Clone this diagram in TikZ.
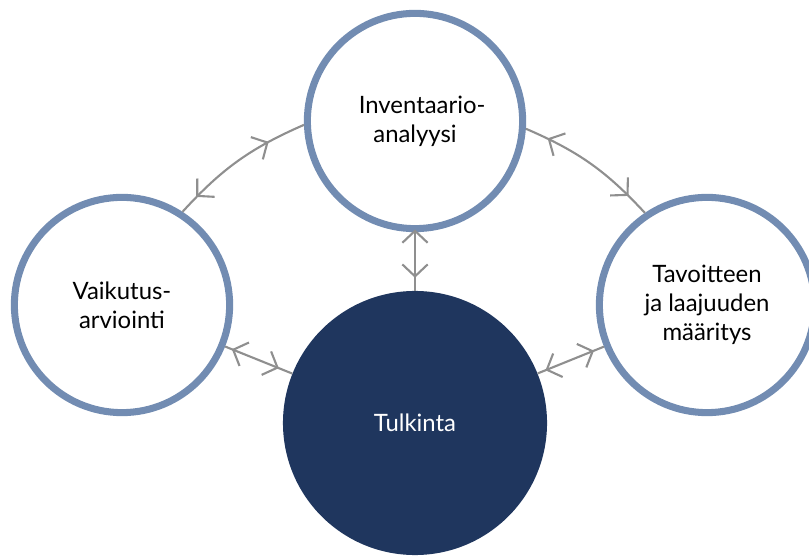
\documentclass[tikz,border=0pt]{standalone}
\usepackage{fontspec}
\setmainfont{Lato}
\usetikzlibrary{arrows.meta,decorations.markings}
\definecolor{ringblue}{HTML}{728CB2}
\definecolor{navy}{HTML}{1F365E}
\definecolor{linkgray}{HTML}{8F8F8F}

\begin{document}
\begin{tikzpicture}[x=0.025cm, y=-0.025cm,
  every node/.style={font=\fontsize{17}{20.5}\selectfont, align=center},
  ring/.style={draw=ringblue, circle, line width=5pt, fill=white, minimum size=5.38cm, inner sep=0pt},
  core/.style={circle, fill=navy, text=white, minimum size=6.6cm, inner sep=0pt},
  link/.style 2 args={draw=linkgray, line width=1.5pt, postaction={decorate, decoration={markings,
      mark=at position #1 with {\arrow{Straight Barb[length=8.5pt, width=18pt, line width=1.5pt, reversed]}},
      mark=at position #2 with {\arrow{Straight Barb[length=8.5pt, width=18pt, line width=1.5pt]}}}}}]
\useasboundingbox (0,0) rectangle (809,556);
\node[ring] (inv) at (415,121) {\hspace*{0.6em}Inventaario-\\ analyysi};
\node[ring] (vaik) at (122,305) {Vaikutus-\\ arviointi};
\node[ring] (tav) at (707,305) {Tavoitteen\\ ja laajuuden\\ määritys};
\node[core] (tulk) at (415,423) {Tulkinta};
\draw[link={0.23}{0.74}] (vaik.57) to[bend left=12] (inv.182);
\draw[link={0.26}{0.84}] (inv.-4) to[bend left=12] (tav.124);
\draw[link={0.2}{0.78}] (inv) -- (tulk);
\draw[link={0.3}{0.8}] (vaik) -- (tulk);
\draw[link={0.32}{0.85}] (tulk) -- (tav);
\end{tikzpicture}
\end{document}
